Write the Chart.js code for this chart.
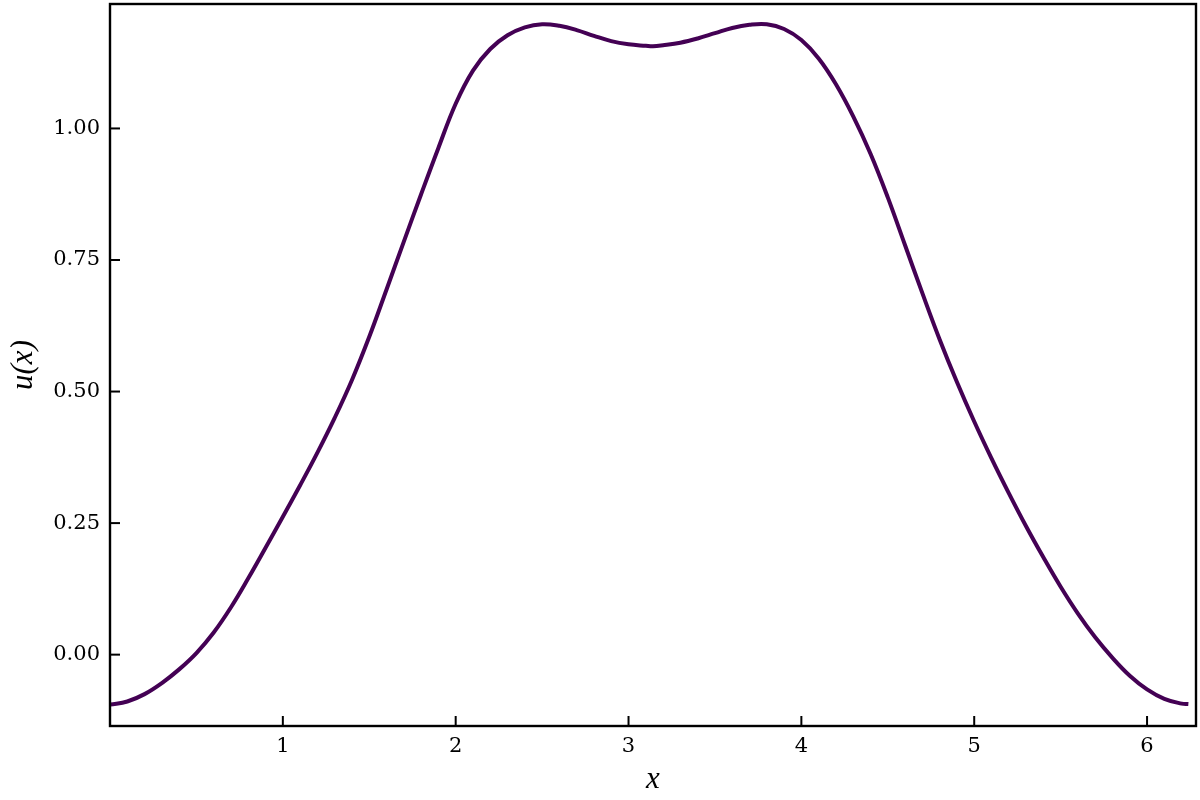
<!DOCTYPE html>
<html>
<head>
<meta charset="utf-8">
<script src="https://cdn.jsdelivr.net/npm/chart.js@4.4.1/dist/chart.umd.min.js"></script>
<style>
  body { margin: 0; background: #fff; }
  #wrap { width: 1200px; height: 800px; }
</style>
</head>
<body>
<div id="wrap"><canvas id="uChart"></canvas></div>
<script>
// values
var xValues = [0.0, 0.1, 0.2, 0.3, 0.4, 0.5, 0.6, 0.7, 0.8, 0.9,
               1.0, 1.1, 1.2, 1.3, 1.4, 1.5, 1.6, 1.7, 1.8, 1.9,
               2.0, 2.1, 2.2, 2.3, 2.4, 2.5, 2.6, 2.7, 2.8, 2.9,
               3.0, 3.1, 3.1416, 3.2, 3.3, 3.4, 3.5, 3.6, 3.7, 3.8, 3.9,
               4.0, 4.1, 4.2, 4.3, 4.4, 4.5, 4.6, 4.7, 4.8, 4.9,
               5.0, 5.1, 5.2, 5.3, 5.4, 5.5, 5.6, 5.7, 5.8, 5.9,
               6.0, 6.1, 6.2, 6.239];
var uValues = [-0.095, -0.089, -0.075, -0.054, -0.028, 0.003, 0.042, 0.090, 0.145, 0.203,
               0.262, 0.322, 0.384, 0.450, 0.522, 0.604, 0.694, 0.785, 0.875, 0.963,
               1.047, 1.110, 1.151, 1.177, 1.192, 1.198, 1.195, 1.187, 1.176, 1.166,
               1.160, 1.157, 1.156, 1.158, 1.163, 1.171, 1.181, 1.191, 1.197, 1.198, 1.189,
               1.168, 1.133, 1.084, 1.023, 0.952, 0.869, 0.778, 0.687, 0.599, 0.518,
               0.443, 0.373, 0.307, 0.244, 0.185, 0.129, 0.078, 0.033, -0.006, -0.040,
               -0.066, -0.084, -0.093, -0.094];

var xTicks = [1, 2, 3, 4, 5, 6];
var yTicks = [0.0, 0.25, 0.5, 0.75, 1.0];
var xMin = 0, xMax = 6.2832;
var yMin = -0.1356, yMax = 1.2365;

var points = xValues.map(function(x, i) { return {x: x, y: uValues[i]}; });

// matplotlib style: box round the plot, ticks pointing inward
var frameAndTicks = {
    id: 'frameAndTicks',
    afterDraw: function(chart) {
        var ctx = chart.ctx;
        var area = chart.chartArea;
        var xs = chart.scales.x, ys = chart.scales.y;
        ctx.save();
        ctx.strokeStyle = '#000';
        ctx.lineWidth = 2;
        xs.ticks.forEach(function(t) {
            var px = xs.getPixelForValue(t.value);
            ctx.beginPath();
            ctx.moveTo(px, area.bottom);
            ctx.lineTo(px, area.bottom - 10);
            ctx.stroke();
        });
        ys.ticks.forEach(function(t) {
            var py = ys.getPixelForValue(t.value);
            ctx.beginPath();
            ctx.moveTo(area.left, py);
            ctx.lineTo(area.left + 10, py);
            ctx.stroke();
        });
        ctx.lineWidth = 2.4;
        ctx.strokeRect(area.left, area.top, area.right - area.left, area.bottom - area.top);
        ctx.restore();
    }
};

function noEdgePadding(scale) {
    scale.paddingTop = 0;
    scale.paddingBottom = 0;
    scale.paddingLeft = 0;
    scale.paddingRight = 0;
}

var tickFont = {family: 'DejaVu Serif', size: 21};
var labelFont = {family: 'Liberation Serif', size: 31, style: 'italic'};

var uChart = new Chart(document.getElementById('uChart'), {
    type: 'line',
    data: {
        datasets: [{
            data: points,
            borderColor: '#440154',
            borderWidth: 4,
            pointRadius: 0,
            fill: false,
            tension: 0.4
        }]
    },
    options: {
        responsive: true,
        maintainAspectRatio: false,
        animation: false,
        layout: {padding: {top: 4, right: 4, left: 0, bottom: 0}},
        plugins: {
            legend: {display: false},
            tooltip: {enabled: false}
        },
        scales: {
            x: {
                type: 'linear',
                min: xMin,
                max: xMax,
                afterBuildTicks: function(scale) {
                    scale.ticks = xTicks.map(function(v) { return {value: v}; });
                },
                afterFit: function(scale) {
                    scale.height = 74;
                    noEdgePadding(scale);
                },
                grid: {display: false, drawTicks: false},
                border: {display: false},
                ticks: {
                    font: tickFont,
                    color: '#000',
                    padding: 8,
                    maxRotation: 0,
                    autoSkip: false,
                    callback: function(v) { return String(v); }
                },
                title: {
                    display: true,
                    text: 'x',
                    font: labelFont,
                    color: '#000',
                    padding: {top: 0, bottom: 2}
                }
            },
            y: {
                type: 'linear',
                min: yMin,
                max: yMax,
                afterBuildTicks: function(scale) {
                    scale.ticks = yTicks.map(function(v) { return {value: v}; });
                },
                afterFit: function(scale) {
                    scale.width = 110;
                    noEdgePadding(scale);
                },
                grid: {display: false, drawTicks: false},
                border: {display: false},
                ticks: {
                    font: tickFont,
                    color: '#000',
                    padding: 10,
                    autoSkip: false,
                    callback: function(v) { return v.toFixed(2); }
                },
                title: {
                    display: true,
                    text: 'u(x)',
                    font: labelFont,
                    color: '#000',
                    padding: {top: 5, bottom: 0}
                }
            }
        }
    },
    plugins: [frameAndTicks]
});
</script>
</body>
</html>
